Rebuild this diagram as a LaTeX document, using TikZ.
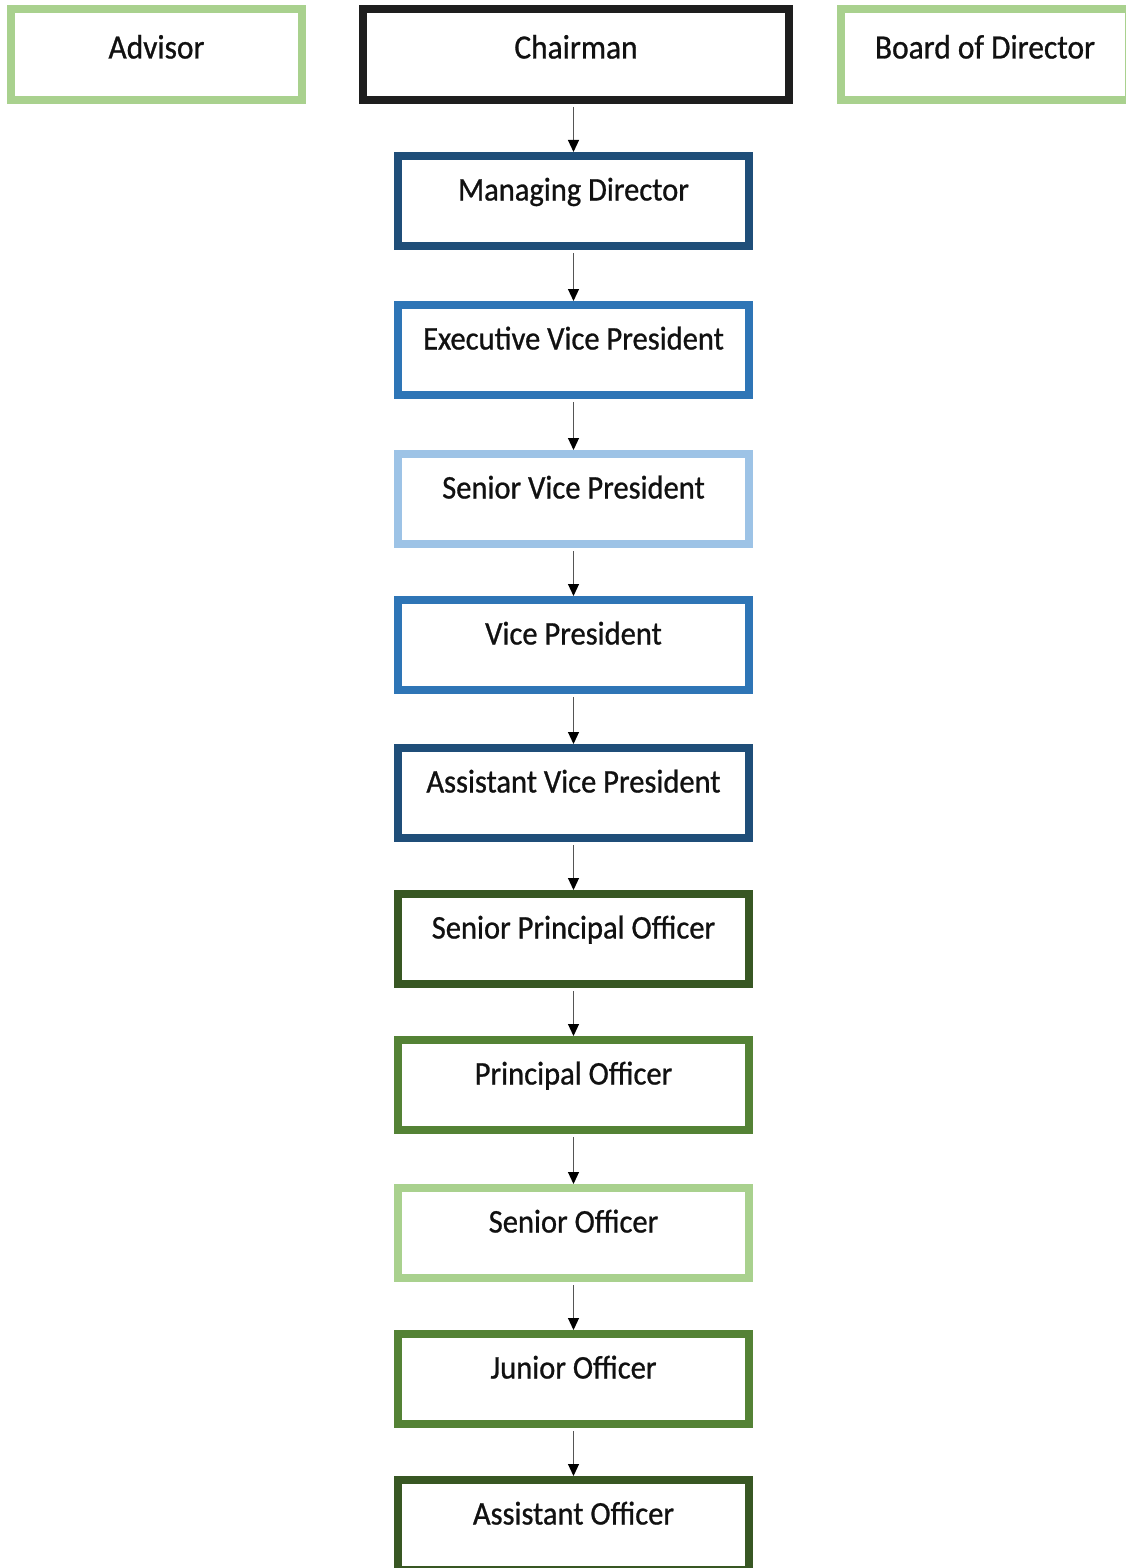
\documentclass[tikz,border=0pt]{standalone}
\usepackage{fontspec}
\setmainfont[FakeStretch=0.925,FakeBold=0.8]{Carlito}
\usetikzlibrary{arrows.meta}
\definecolor{lgreen}{HTML}{A9D18E}
\definecolor{mgreen}{HTML}{548235}
\definecolor{dgreen}{HTML}{385723}
\definecolor{dblue}{HTML}{1F4E79}
\definecolor{mblue}{HTML}{2E75B6}
\definecolor{lblue}{HTML}{9DC3E6}
\definecolor{chairk}{HTML}{1E1E1E}
\definecolor{txt}{HTML}{111111}
\definecolor{conn}{HTML}{555555}
\begin{document}
\begin{tikzpicture}[x=1pt,y=1pt,
  topbox/.style={draw=#1, line width=8pt, fill=white, minimum height=91pt,
    text height=22pt, text depth=14pt, inner sep=0pt, text=txt,
    font=\fontsize{34}{40}\selectfont},
  colbox/.style={draw=#1, line width=8pt, fill=white, minimum width=351pt, minimum height=90pt,
    text height=22pt, text depth=23pt, inner sep=0pt, text=txt,
    font=\fontsize{33}{40}\selectfont},
  link/.style={draw=conn, line width=1.1pt, shorten <=3pt,
    -{Triangle[length=12pt,width=11pt,color=black]}}
]
\clip (0,0) rectangle (1126,-1568);
\fill[white] (0,0) rectangle (1126,-1568);

\node[topbox=lgreen, minimum width=291pt] (adv) at (156.5,-54.5) {Advisor};
\node[topbox=chairk, minimum width=426pt] (chair) at (576,-54.5) {Chairman};
\node[topbox=lgreen, minimum width=288pt] (bod) at (985,-54.5) {Board of Director};

\node[colbox=dblue]  (md)   at (573.5,-201) {Managing Director};
\node[colbox=mblue]  (evp)  at (573.5,-350) {Executive Vice President};
\node[colbox=lblue]  (svp)  at (573.5,-499) {Senior Vice President};
\node[colbox=mblue]  (vp)   at (573.5,-645) {Vice President};
\node[colbox=dblue]  (avp)  at (573.5,-793) {Assistant Vice President};
\node[colbox=dgreen] (spo)  at (573.5,-939) {Senior Principal Officer};
\node[colbox=mgreen] (po)   at (573.5,-1085) {Principal Officer};
\node[colbox=lgreen] (so)   at (573.5,-1233) {Senior Officer};
\node[colbox=mgreen] (jo)   at (573.5,-1379) {Junior Officer};
\node[colbox=dgreen] (ao)   at (573.5,-1525) {Assistant Officer};

\draw[link] (md.north |- chair.south) -- (md.north);
\draw[link] (md.south) -- (evp.north);
\draw[link] (evp.south) -- (svp.north);
\draw[link] (svp.south) -- (vp.north);
\draw[link] (vp.south) -- (avp.north);
\draw[link] (avp.south) -- (spo.north);
\draw[link] (spo.south) -- (po.north);
\draw[link] (po.south) -- (so.north);
\draw[link] (so.south) -- (jo.north);
\draw[link] (jo.south) -- (ao.north);
\end{tikzpicture}
\end{document}
